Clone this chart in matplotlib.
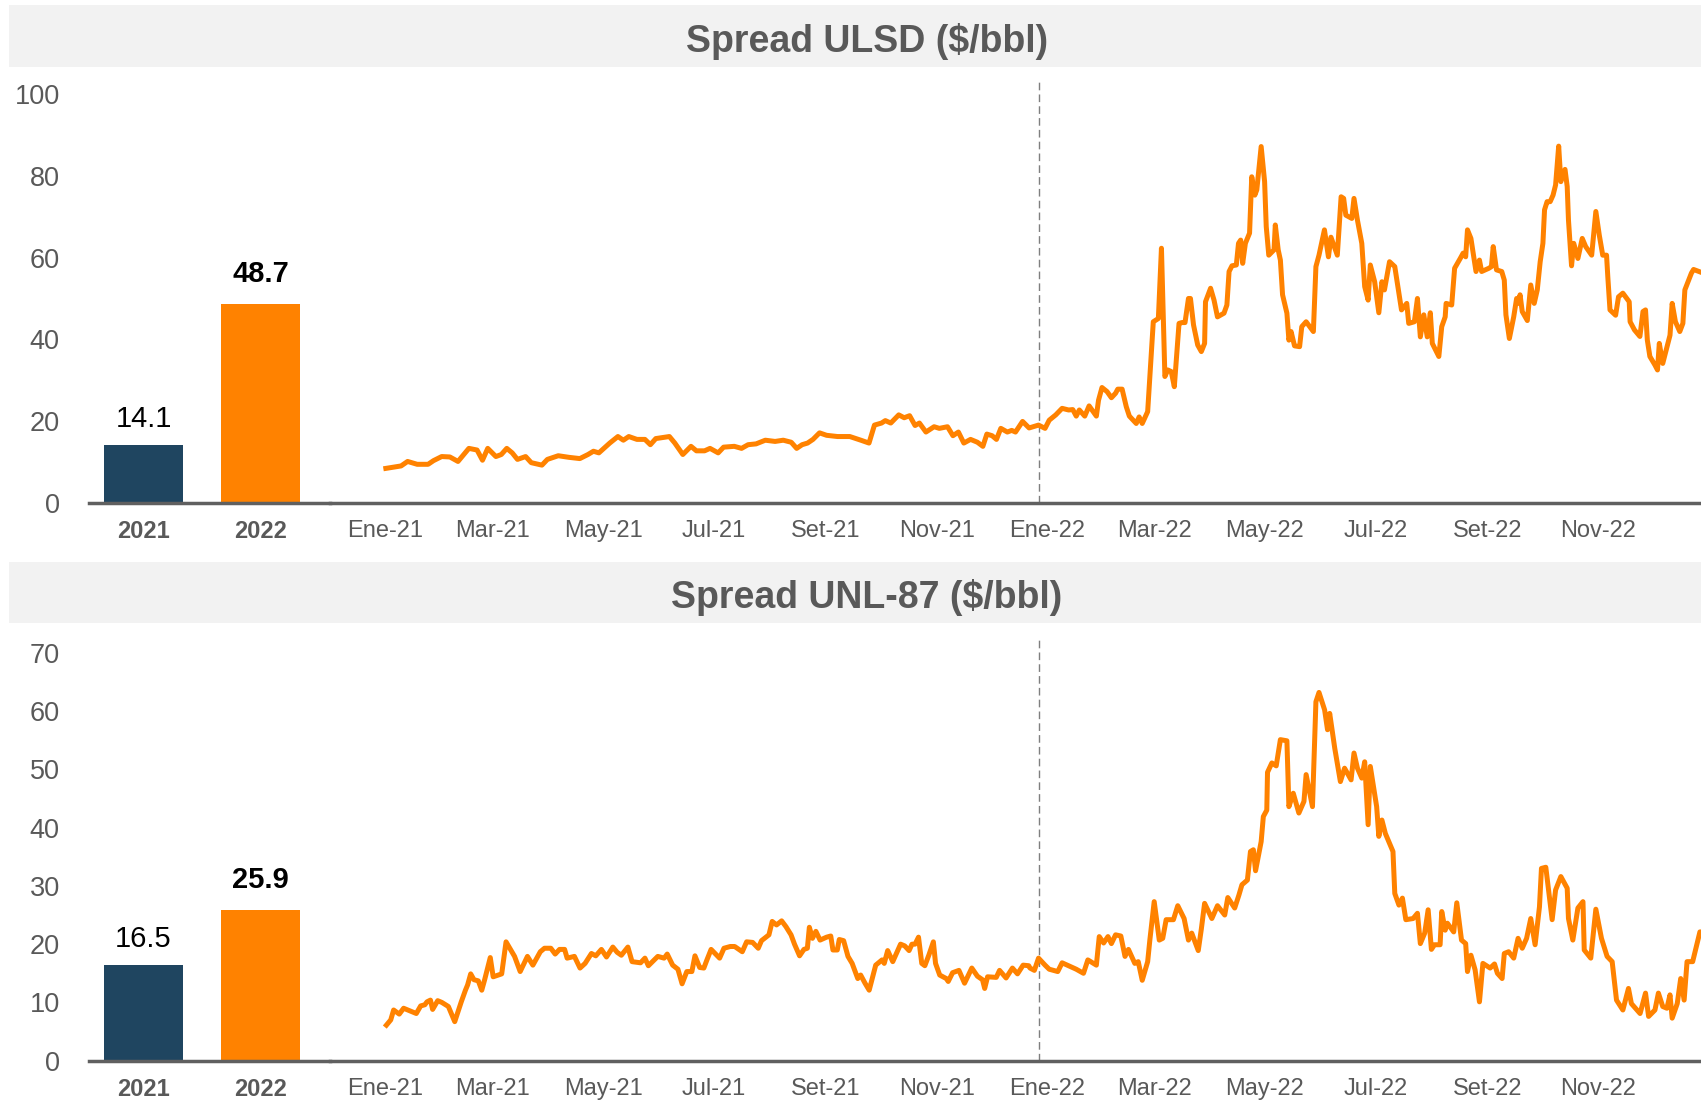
import numpy as np
import pandas as pd
import matplotlib
matplotlib.use("Agg")
import matplotlib.pyplot as plt
from matplotlib.patches import Rectangle

plt.rcParams["font.family"] = ["Liberation Sans", "DejaVu Sans"]

# ---- data ----
years = ["2021", "2022"]
ulsd_avg = [14.1, 48.7]
unl_avg = [16.5, 25.9]

# daily spreads: x = days since 2021-01-01, y = $/bbl
ulsd_day = [0.2, 8.6, 12.2, 17.5, 23.5, 26.5, 31, 35.5, 40, 46, 50.5, 53.5, 56.4, 60.9, 63.9, 66.9,
            69.9, 72.8, 77.3, 80.4, 86.3, 89.3, 95.3, 101.3, 107.2, 111.7, 114.7, 117.7, 123.7, 128.2,
            131.2, 134.2, 138.7, 143.1, 146.1, 149.1, 156.6, 159.6, 164, 168.5, 171.5, 176, 179, 183.5,
            186.5, 192.4, 196.4, 200, 204.4, 209.5, 214.9, 219.4, 223.8, 226.8, 229.8, 232.8, 235.8,
            239.4, 243.3, 249.3, 256.1, 262.2, 266.7, 269.7, 273.6, 275.7, 278.7, 283.1, 286.1, 289.1,
            292.1, 294.5, 298.1, 302.6, 305.5, 310, 313, 316, 319, 322.7, 326.5, 329.5, 331.7, 334.6,
            337, 339.4, 343, 345.4, 347.5, 351.4, 355,
            360.2, 363.8, 366.1, 369.7, 373.2, 376.8, 379.1, 381, 382.7, 385.7, 388.1, 392.1, 393.3,
            395.2, 398, 400.4, 402.7, 403.9, 406.3, 408.6, 410.3, 414.1, 415.7, 417.4, 420.4, 423.5,
            426.3, 428, 429.9, 431.5, 433.4, 435.1, 437.7, 439.3, 441, 442.9, 444, 445.7, 448, 450,
            451.8, 452.3, 455.1, 457, 458.9, 462.5, 464.1, 465.3, 466.9, 469.3, 470.5, 471.7, 472.8,
            474.3, 476.6, 477.8, 479.5, 480.6, 483, 484.9, 485.8, 487.2, 490.1, 490.8, 492.4, 493.6,
            494.8, 497.2, 498.3, 499.5, 501.4, 504.2, 505.4, 507.8, 511.8, 513.2, 514.9, 517.9, 520.1,
            521.5, 525, 527.1, 528.5, 529.7, 533, 534.2, 536.1, 538.5, 540.1, 542, 543.2, 545.6, 547.9,
            549.6, 551, 553.8, 556.7, 560.4, 563.3, 564.4, 567.5, 569.2, 570.8, 572.7, 574.6, 576.3,
            577.4, 581, 582.6, 584.5, 585, 588.1, 589.7, 592.8, 594.4, 595.8, 596.8, 598.7, 601.5,
            603.4, 604.6, 608.6, 610, 611, 612.8, 615.7, 617.1, 618, 619.9, 622.3, 623.9, 624.7, 625.8,
            627, 629.8, 631.7, 633.6, 635.3, 636.9, 638.4, 639.3, 640.7, 642.4, 644, 645.4, 647.1,
            648.3, 650.6, 651.8, 652.5, 654.2, 655.4, 657.7, 660.1, 662, 665.3, 667.6, 669.5, 671.4,
            673.5, 674.2, 675.4, 678.5, 680.1, 682.5, 686, 686.5, 688.9, 691.9, 693.6, 695, 696, 697.4,
            700.2, 701.6, 702.6, 704.5, 708.5, 709.7, 711.5, 713.9, 715.6, 716.7, 720.3, 721.5, 725.7]
ulsd_val = [8.4, 9.0, 10.1, 9.4, 9.4, 10.3, 11.3, 11.2, 10.1, 13.3, 12.9, 10.4, 13.3, 11.3, 11.8, 13.3,
            12.2, 10.6, 11.3, 9.8, 9.2, 10.6, 11.5, 11.1, 10.8, 11.8, 12.6, 12.2, 14.6, 16.2,
            15.3, 16.2, 15.5, 15.5, 14.2, 15.7, 16.2, 14.6, 11.8, 13.8, 12.7, 12.7, 13.3, 12.2,
            13.6, 13.8, 13.3, 14.2, 14.4, 15.3, 15.0, 15.3, 14.8, 13.3, 14.2, 14.6, 15.5,
            17.1, 16.5, 16.2, 16.2, 15.3, 14.6, 19.0, 19.5, 20.1, 19.5, 21.5, 20.8, 21.3,
            18.9, 19.5, 17.3, 18.6, 18.2, 18.6, 16.4, 17.3, 14.6, 15.5, 14.8, 13.8, 16.8, 16.4,
            15.5, 18.2, 17.3, 17.7, 17.3, 19.9, 18.3,
            19.0, 18.2, 20.2, 21.5, 23.1, 22.7, 22.8, 21.2, 22.7, 21.2, 23.7, 21.2, 25.1,
            28.2, 27.2, 25.7, 26.8, 27.8, 27.8, 23.5, 21.2, 19.4, 21.0, 19.4, 22.3, 44.3,
            45.1, 62.3, 30.9, 32.5, 32.1, 28.4, 43.9, 44.1, 44.1, 50.0, 50.0, 43.5, 38.6, 37.0,
            39.0, 49.2, 52.5, 49.6, 45.5, 46.4, 48.4, 56.6, 58.0, 58.2, 63.5, 64.3, 58.6,
            63.5, 66.0, 79.8, 75.3, 76.6, 87.2, 78.6, 67.6, 60.6, 61.9, 68.0, 61.9, 59.4,
            50.9, 46.4, 39.8, 41.9, 38.4, 38.2, 43.1, 44.3, 41.9, 57.8, 60.6, 66.8, 60.2,
            65.0, 60.6, 74.9, 74.5, 70.4, 69.6, 74.5, 69.2, 63.5, 52.9, 49.6, 58.2, 54.1, 46.5,
            54.1, 52.1, 59.0, 57.8, 47.2, 48.8, 43.9, 44.3, 50.0, 40.6, 46.0, 40.6, 46.5,
            39.0, 35.8, 43.1, 45.5, 48.8, 48.4, 57.4, 59.8, 61.1, 60.2, 66.8, 64.7, 56.6,
            59.4, 56.6, 57.4, 57.8, 62.7, 57.0, 56.6, 54.5, 46.0, 40.2, 45.5, 50.0, 48.8, 50.9,
            46.8, 44.6, 53.3, 48.8, 52.1, 59.0, 63.5, 71.7, 73.7, 73.7, 75.3, 77.8, 87.3,
            78.6, 81.6, 77.4, 69.2, 58.0, 63.5, 59.8, 64.7, 62.7, 60.6, 71.3, 65.5, 60.6,
            60.6, 55.3, 47.2, 45.9, 50.4, 51.3, 49.2, 44.3, 42.3, 40.7, 46.8, 47.2, 39.8, 35.8,
            33.7, 32.5, 39.0, 34.1, 41.0, 48.8, 44.3, 41.9, 43.9, 52.1, 56.2, 57.1, 56.4]

unl_day = [0.5, 2.9, 4.5, 7.6, 10, 14.6, 17, 19.4, 21.7, 22.9, 24.8, 26, 28.8, 31.1, 34.7, 38.2, 41.8,
           44.1, 45.3, 47, 48.8, 51.2, 53.1, 54.7, 57.8, 59.4, 64.1, 66.5, 71.2, 74.3, 78.3, 81.3,
           85.4, 87.7, 91.2, 93.6, 96, 98.8, 100.2, 104.2, 107.3, 110.1, 113.6, 116, 119.1, 121.9,
           125.4, 127.8, 130.1, 133.7, 136, 140.7, 143.1, 145, 150.2, 153.7, 155.4, 158.4, 161.3,
           163.6, 166.2, 169, 170.7, 173.3, 175.6, 177.3, 179.6, 184.3, 186.7, 190.2, 192.6, 196.8,
           199.2, 202.5, 205.6, 207.4, 211.5, 213.3, 215.7, 218.5, 220.9, 223.7, 225.6, 228.4,
           230.8, 232.7, 233.8, 235.5, 237.4, 239.7, 243.3, 245.6, 246.8, 249.2, 250.3, 252.7,
           255.1, 257.4, 260.5, 262.1, 264.5, 266.8, 268.5, 270.4, 273.9, 275.1, 277, 279.8, 282.2,
           284.1, 286.4, 288.8, 290.4, 292.1, 294, 295.8, 297.5, 299.8, 302.2, 303.4, 305.7, 309.3,
           310.4, 312.8, 316.3, 319.4, 323.4, 326.5, 329.3, 330.5, 332.1, 336.9, 338.7, 342.3,
           345.8, 348.6, 351.7, 354.8,
           355.5, 357.9, 360.2, 363.8, 366.1, 370.8, 373.2, 376.8, 381, 385, 387.4, 392.1, 393.7,
           396.1, 398.5, 400.4, 402.7, 405.6, 407.9, 409.8, 413.3, 415.2, 417.4, 420.4, 421.6, 424,
           426.8, 428.7, 430.6, 434.6, 437, 440.5, 442.9, 444.7, 448.3, 450, 451.8, 455.8, 458.9,
           462.9, 464.6, 468.4, 470.7, 472.4, 475.4, 477.1, 478.7, 479.9, 483, 484.2, 486.1, 486.5,
           488.9, 491.3, 493.6, 497.2, 498.3, 500.7, 503.8, 506.6, 507.8, 511.3, 513.2, 514.9, 518,
           519.6, 520.8, 523.6, 526.7, 529, 532.6, 534.2, 536.1, 538.5, 540.1, 542, 543.2, 546.7,
           547.9, 549.6, 551.5, 555.7, 556.7, 559, 560.9, 562.8, 566.8, 569.2, 570.8, 573.2, 575.1,
           576.9, 578.6, 581.7, 582.6, 584.5, 585.7, 589.2, 590.9, 593.5, 595.8, 596.8, 598.7, 601,
           603.4, 605.3, 609.3, 611.7, 613.3, 615.9, 617.1, 619.5, 622.3, 624.7, 627, 629.4, 631.7,
           634.1, 636.5, 637.6, 640, 643.5, 645.4, 648.3, 651.8, 652.5, 654.9, 657.7, 660.5, 661.2,
           664.8, 667.6, 670.7, 673.8, 676.6, 679, 682.5, 685.6, 687.2, 692, 695, 696.7, 700.2,
           702.1, 704.5, 706.8, 708.5, 709.7, 712.5, 714.4, 716.3, 717.9, 721, 723.4, 725, 725.7]
unl_val = [6.1, 7.0, 8.7, 8.0, 9.0, 8.4, 8.1, 9.4, 9.6, 10.1, 10.4, 8.8, 10.3, 10.0, 9.3, 6.7, 10.1,
           12.1, 13.0, 14.9, 13.9, 13.7, 12.1, 13.9, 17.7, 14.4, 14.9, 20.4, 17.9, 15.3, 17.9, 16.4,
           18.7, 19.3, 19.3, 18.3, 19.1, 19.1, 17.6, 17.9, 15.9, 16.7, 18.4, 18.0, 19.1, 17.8,
           19.5, 18.6, 18.1, 19.5, 17.0, 16.8, 17.6, 16.3, 17.9, 17.6, 18.3, 16.4, 15.7,
           13.2, 15.3, 15.3, 18.0, 16.0, 15.9, 17.3, 19.1, 17.6, 19.3, 19.6, 19.6, 18.7,
           20.4, 20.3, 19.3, 20.6, 21.6, 23.9, 23.3, 24.0, 23.0, 21.6, 20.0, 18.0,
           19.1, 19.3, 22.9, 21.0, 22.2, 20.7, 21.2, 21.4, 19.0, 19.0, 20.8, 20.6,
           17.9, 16.7, 14.1, 14.7, 13.3, 12.1, 14.1, 16.4, 17.3, 16.7, 18.9, 17.0, 18.7,
           20.0, 19.7, 18.9, 20.0, 20.0, 21.2, 16.7, 16.3, 18.2, 20.4, 16.7, 14.7, 14.1,
           13.6, 15.1, 15.5, 13.3, 15.9, 14.5, 13.9, 12.4, 14.4, 14.3, 15.5, 14.2,
           15.9, 14.9, 16.4, 16.3,
           15.9, 15.5, 17.6, 16.4, 15.7, 15.3, 16.8, 16.3, 15.7, 15.0, 17.3, 16.4, 21.3,
           20.2, 21.3, 20.1, 21.6, 21.4, 17.9, 19.1, 16.7, 17.0, 13.8, 17.0, 20.7, 27.3,
           20.7, 21.0, 24.2, 24.2, 26.6, 24.4, 20.7, 21.9, 18.9, 22.6, 27.0, 24.4, 26.6,
           25.0, 28.0, 26.2, 28.4, 30.2, 31.0, 35.9, 36.2, 32.6, 37.6, 41.9, 43.0, 49.5,
           51.1, 50.6, 55.1, 54.9, 43.6, 45.9, 42.5, 44.5, 49.1, 43.6, 61.6, 63.2, 60.2,
           56.8, 59.6, 53.6, 47.9, 50.2, 48.2, 52.8, 50.2, 48.5, 51.3, 40.5, 50.5, 43.6,
           38.5, 41.3, 39.0, 35.9, 28.7, 26.7, 27.9, 24.2, 24.4, 25.3, 20.1, 21.9, 25.9,
           19.1, 19.9, 19.9, 25.6, 22.4, 23.6, 22.1, 27.1, 20.7, 20.1, 15.3, 18.1, 15.6,
           10.1, 16.7, 15.9, 16.6, 15.0, 14.1, 18.4, 18.7, 17.6, 21.0, 19.3, 21.0, 24.4,
           19.9, 26.4, 33.0, 33.2, 24.2, 29.3, 31.6, 29.6, 24.4, 20.7, 26.2, 27.3, 19.0,
           17.6, 26.0, 21.0, 17.9, 17.0, 10.4, 8.7, 12.4, 9.8, 8.1, 11.6, 7.6, 8.7,
           11.6, 9.3, 9.0, 11.3, 7.3, 9.8, 14.1, 10.4, 17.0, 17.0, 20.1, 22.1, 22.1]

month_labels = ["Ene-21", "Mar-21", "May-21", "Jul-21", "Set-21", "Nov-21",
                "Ene-22", "Mar-22", "May-22", "Jul-22", "Set-22", "Nov-22"]

titles = ["Spread ULSD ($/bbl)", "Spread UNL-87 ($/bbl)"]

# ---- style ----
ORANGE = "#FF8200"
NAVY = "#1F4560"
GREY_TXT = "#595959"
AXIS_GREY = "#606060"
BAND = "#F2F2F2"

W, H = 1701, 1101
START = pd.Timestamp("2021-01-01")


def to_dates(days):
    return START + pd.to_timedelta(np.asarray(days, dtype=float), unit="D")


tick_dates = pd.date_range("2021-01-01", "2022-11-01", freq="2MS")
x_left = START + pd.Timedelta(days=-30.6)
x_right = START + pd.Timedelta(days=725.6)
split_date = START + pd.Timedelta(days=360.7)

fig = plt.figure(figsize=(W / 100, H / 100), dpi=100)


def fx(px):
    return px / W


def fy(py):
    return 1 - py / H


panels = [
    # band top/bottom px, title baseline px, axis zero px, axis top px, ymax, ticks
    dict(band=(5.4, 67.3), tbase=51.5, y0=502.7, ytop=82.0, ymax=103.0,
         yticks=np.arange(0, 101, 20), avg=ulsd_avg, day=ulsd_day, val=ulsd_val, title=titles[0]),
    dict(band=(562.0, 622.7), tbase=607.6, y0=1060.7, ytop=640.0, ymax=72.2,
         yticks=np.arange(0, 71, 10), avg=unl_avg, day=unl_day, val=unl_val, title=titles[1]),
]

for p in panels:
    b0, b1 = p["band"]
    fig.patches.append(Rectangle((fx(8.7), fy(b1)), 1 - fx(8.7), (b1 - b0) / H,
                                 transform=fig.transFigure, facecolor=BAND, edgecolor="none", zorder=0))
    fig.text(fx(867), fy(p["tbase"]), p["title"], ha="center", va="baseline",
             fontsize=27, fontweight="bold", color=GREY_TXT)

    bottom = fy(p["y0"])
    height = (p["y0"] - p["ytop"]) / H
    ax_b = fig.add_axes([fx(89), bottom, fx(330) - fx(89), height])
    ax_l = fig.add_axes([fx(330), bottom, 1 - fx(330), height])

    # bars: yearly averages
    colors = [NAVY, ORANGE]
    xpos = np.arange(len(years))
    ax_b.bar(xpos, p["avg"], width=0.675, color=colors, zorder=2)
    for i, v in enumerate(p["avg"]):
        bold = i == 1
        ax_b.annotate(f"{v:.1f}", (xpos[i], v), xytext=(0, 16 if bold else 13),
                      textcoords="offset points", ha="center", va="baseline", fontsize=21,
                      fontweight="bold" if bold else "normal", color="black")
    ax_b.set_xlim(-0.466, 1.594)
    ax_b.set_xticks(xpos)
    ax_b.set_xticklabels(years, fontweight="bold")
    ax_b.set_yticks(p["yticks"])
    ax_b.set_yticklabels([str(t) for t in p["yticks"]])
    ax_b.tick_params(axis="y", length=0, pad=21, labelsize=19.5, labelcolor=GREY_TXT)

    # daily line
    ax_l.plot(to_dates(p["day"]), p["val"], color=ORANGE, lw=3.6, solid_joinstyle="round", zorder=3)
    ax_l.axvline(split_date, color="#7F7F7F", lw=1.0, ls=(0, (5.5, 3)), zorder=1)
    ax_l.set_xlim(x_left, x_right)
    ax_l.set_xticks(tick_dates)
    ax_l.set_xticklabels(month_labels)
    ax_l.set_yticks([])

    for ax in (ax_b, ax_l):
        ax.set_ylim(0, p["ymax"])
        ax.set_facecolor("none")
        for s in ("top", "right", "left"):
            ax.spines[s].set_visible(False)
        ax.spines["bottom"].set_color(AXIS_GREY)
        ax.spines["bottom"].set_linewidth(2.5)
        ax.spines["bottom"].set_zorder(4)
        ax.tick_params(axis="x", length=0, pad=12.5, labelsize=17, labelcolor=GREY_TXT)

fig.savefig("out.png", dpi=100)
